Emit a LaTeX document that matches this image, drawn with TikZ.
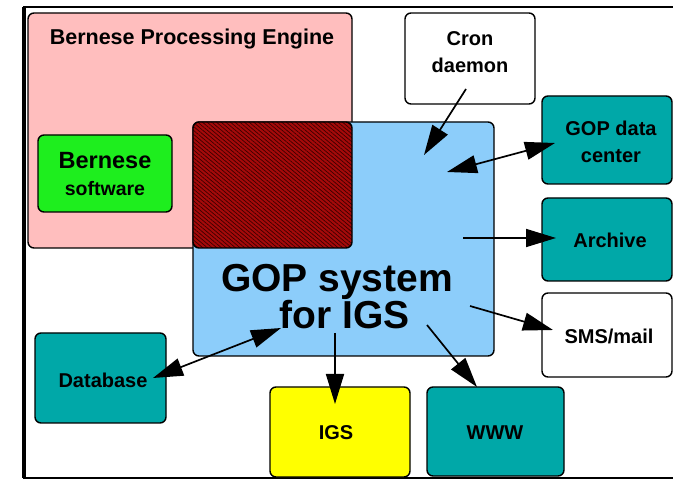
\documentclass[tikz,border=0pt]{standalone}
\usepackage{fontspec}
\setmainfont{Liberation Sans}
\usetikzlibrary{arrows.meta,patterns.meta}
\definecolor{pinkc}{RGB}{255,190,190}
\definecolor{greenc}{RGB}{30,238,30}
\definecolor{bluec}{RGB}{140,205,250}
\definecolor{tealc}{RGB}{0,168,168}
\definecolor{yellowc}{RGB}{255,255,0}
\definecolor{darkredc}{RGB}{165,10,10}
\definecolor{hatchc}{RGB}{60,0,0}
\begin{document}
\begin{tikzpicture}[x=1pt,y=-1pt,
  box/.style={draw=black,line width=1.4pt,rounded corners=6pt,inner sep=0pt,outer sep=0pt,
    font=\bfseries\fontsize{20}{27}\selectfont,align=center},
  lbl/.style={inner sep=0pt,font=\bfseries\fontsize{20}{27}\selectfont,align=center},
  big/.style={inner sep=0pt,anchor=base,font=\bfseries\fontsize{39}{39}\selectfont},
  arr/.style={line width=1.7pt,-{Triangle[length=30pt,width=18pt]}},
  darr/.style={line width=1.7pt,{Triangle[length=30pt,width=18pt]}-{Triangle[length=30pt,width=18pt]}}]
\useasboundingbox (0,0) rectangle (673,481);
\fill[white] (0,0) rectangle (673,481);
% frame
\draw[line width=2.6pt] (676,7) -- (24,7) -- (24,478) -- (676,478);
\draw[line width=3.5pt] (24,7) -- (24,478);
% boxes
\node[box,fill=pinkc,minimum width=324pt,minimum height=235pt] (bpe) at (190,130.5) {};
\node[box,fill=bluec,minimum width=301pt,minimum height=234pt] (gop) at (343.5,239) {};
\node[box,preaction={fill=darkredc},pattern={Lines[angle=-40,distance=3pt,line width=0.7pt]},pattern color=hatchc,
  minimum width=159pt,minimum height=126pt] (ovl) at (272.5,185) {};
\node[box,fill=greenc,minimum width=134pt,minimum height=77pt] (bsw) at (105,173.5) {};
\node[box,fill=white,minimum width=130pt,minimum height=91pt] (cron) at (470,58.5) {};
\node[box,fill=tealc,minimum width=130pt,minimum height=88pt] (gdc) at (607,140) {};
\node[box,fill=tealc,minimum width=130pt,minimum height=83pt] (arch) at (607,239.5) {};
\node[box,fill=white,minimum width=130pt,minimum height=84pt] (sms) at (607,335) {};
\node[box,fill=tealc,minimum width=131pt,minimum height=90pt] (db) at (100.5,378) {};
\node[box,fill=yellowc,minimum width=140pt,minimum height=90pt] (igs) at (340,432) {};
\node[box,fill=tealc,minimum width=137pt,minimum height=89pt] (www) at (495.5,431.5) {};
% texts
\node[lbl,font=\bfseries\fontsize{21.5}{24}\selectfont] (bpet) at (192,39) {Bernese Processing Engine};
\node[lbl] (bswt) at (105,174.5) {{\fontsize{23.5}{27}\selectfont Bernese}\\{\fontsize{19.5}{27}\selectfont software}};
\node[lbl] (cront) at (470,52) {Cron\\daemon};
\node[lbl] (gdct) at (611,141.5) {GOP data\\center};
\node[lbl] (archt) at (610,240) {Archive};
\node[lbl] (smst) at (609,336) {SMS/mail};
\node[lbl] (dbt) at (103,380) {Database};
\node[lbl] (igst) at (336,433) {IGS};
\node[lbl] (wwwt) at (495,433) {WWW};
\node[big] (gopt1) at (337,292) {GOP system};
\node[big] (gopt2) at (345,329) {for IGS};
% arrow end points
\coordinate (c1) at (466,89);
\coordinate (c2) at (424,155);
\coordinate (g1) at (555,143);
\coordinate (g2) at (447,172);
\coordinate (a1) at (463,238);
\coordinate (a2) at (556,238);
\coordinate (s1) at (470,306);
\coordinate (s2) at (553,330);
\coordinate (w1) at (427,325);
\coordinate (w2) at (477,387);
\coordinate (i1) at (335,333);
\coordinate (i2) at (335,404);
\coordinate (d1) at (153,378);
\coordinate (d2) at (281,328);
% arrows
\draw[arr] (c1) -- (c2);
\draw[darr] (g1) -- (g2);
\draw[arr] (a1) -- (a2);
\draw[arr] (s1) -- (s2);
\draw[arr] (w1) -- (w2);
\draw[arr] (i1) -- (i2);
\draw[darr] (d1) -- (d2);
\end{tikzpicture}
\end{document}
